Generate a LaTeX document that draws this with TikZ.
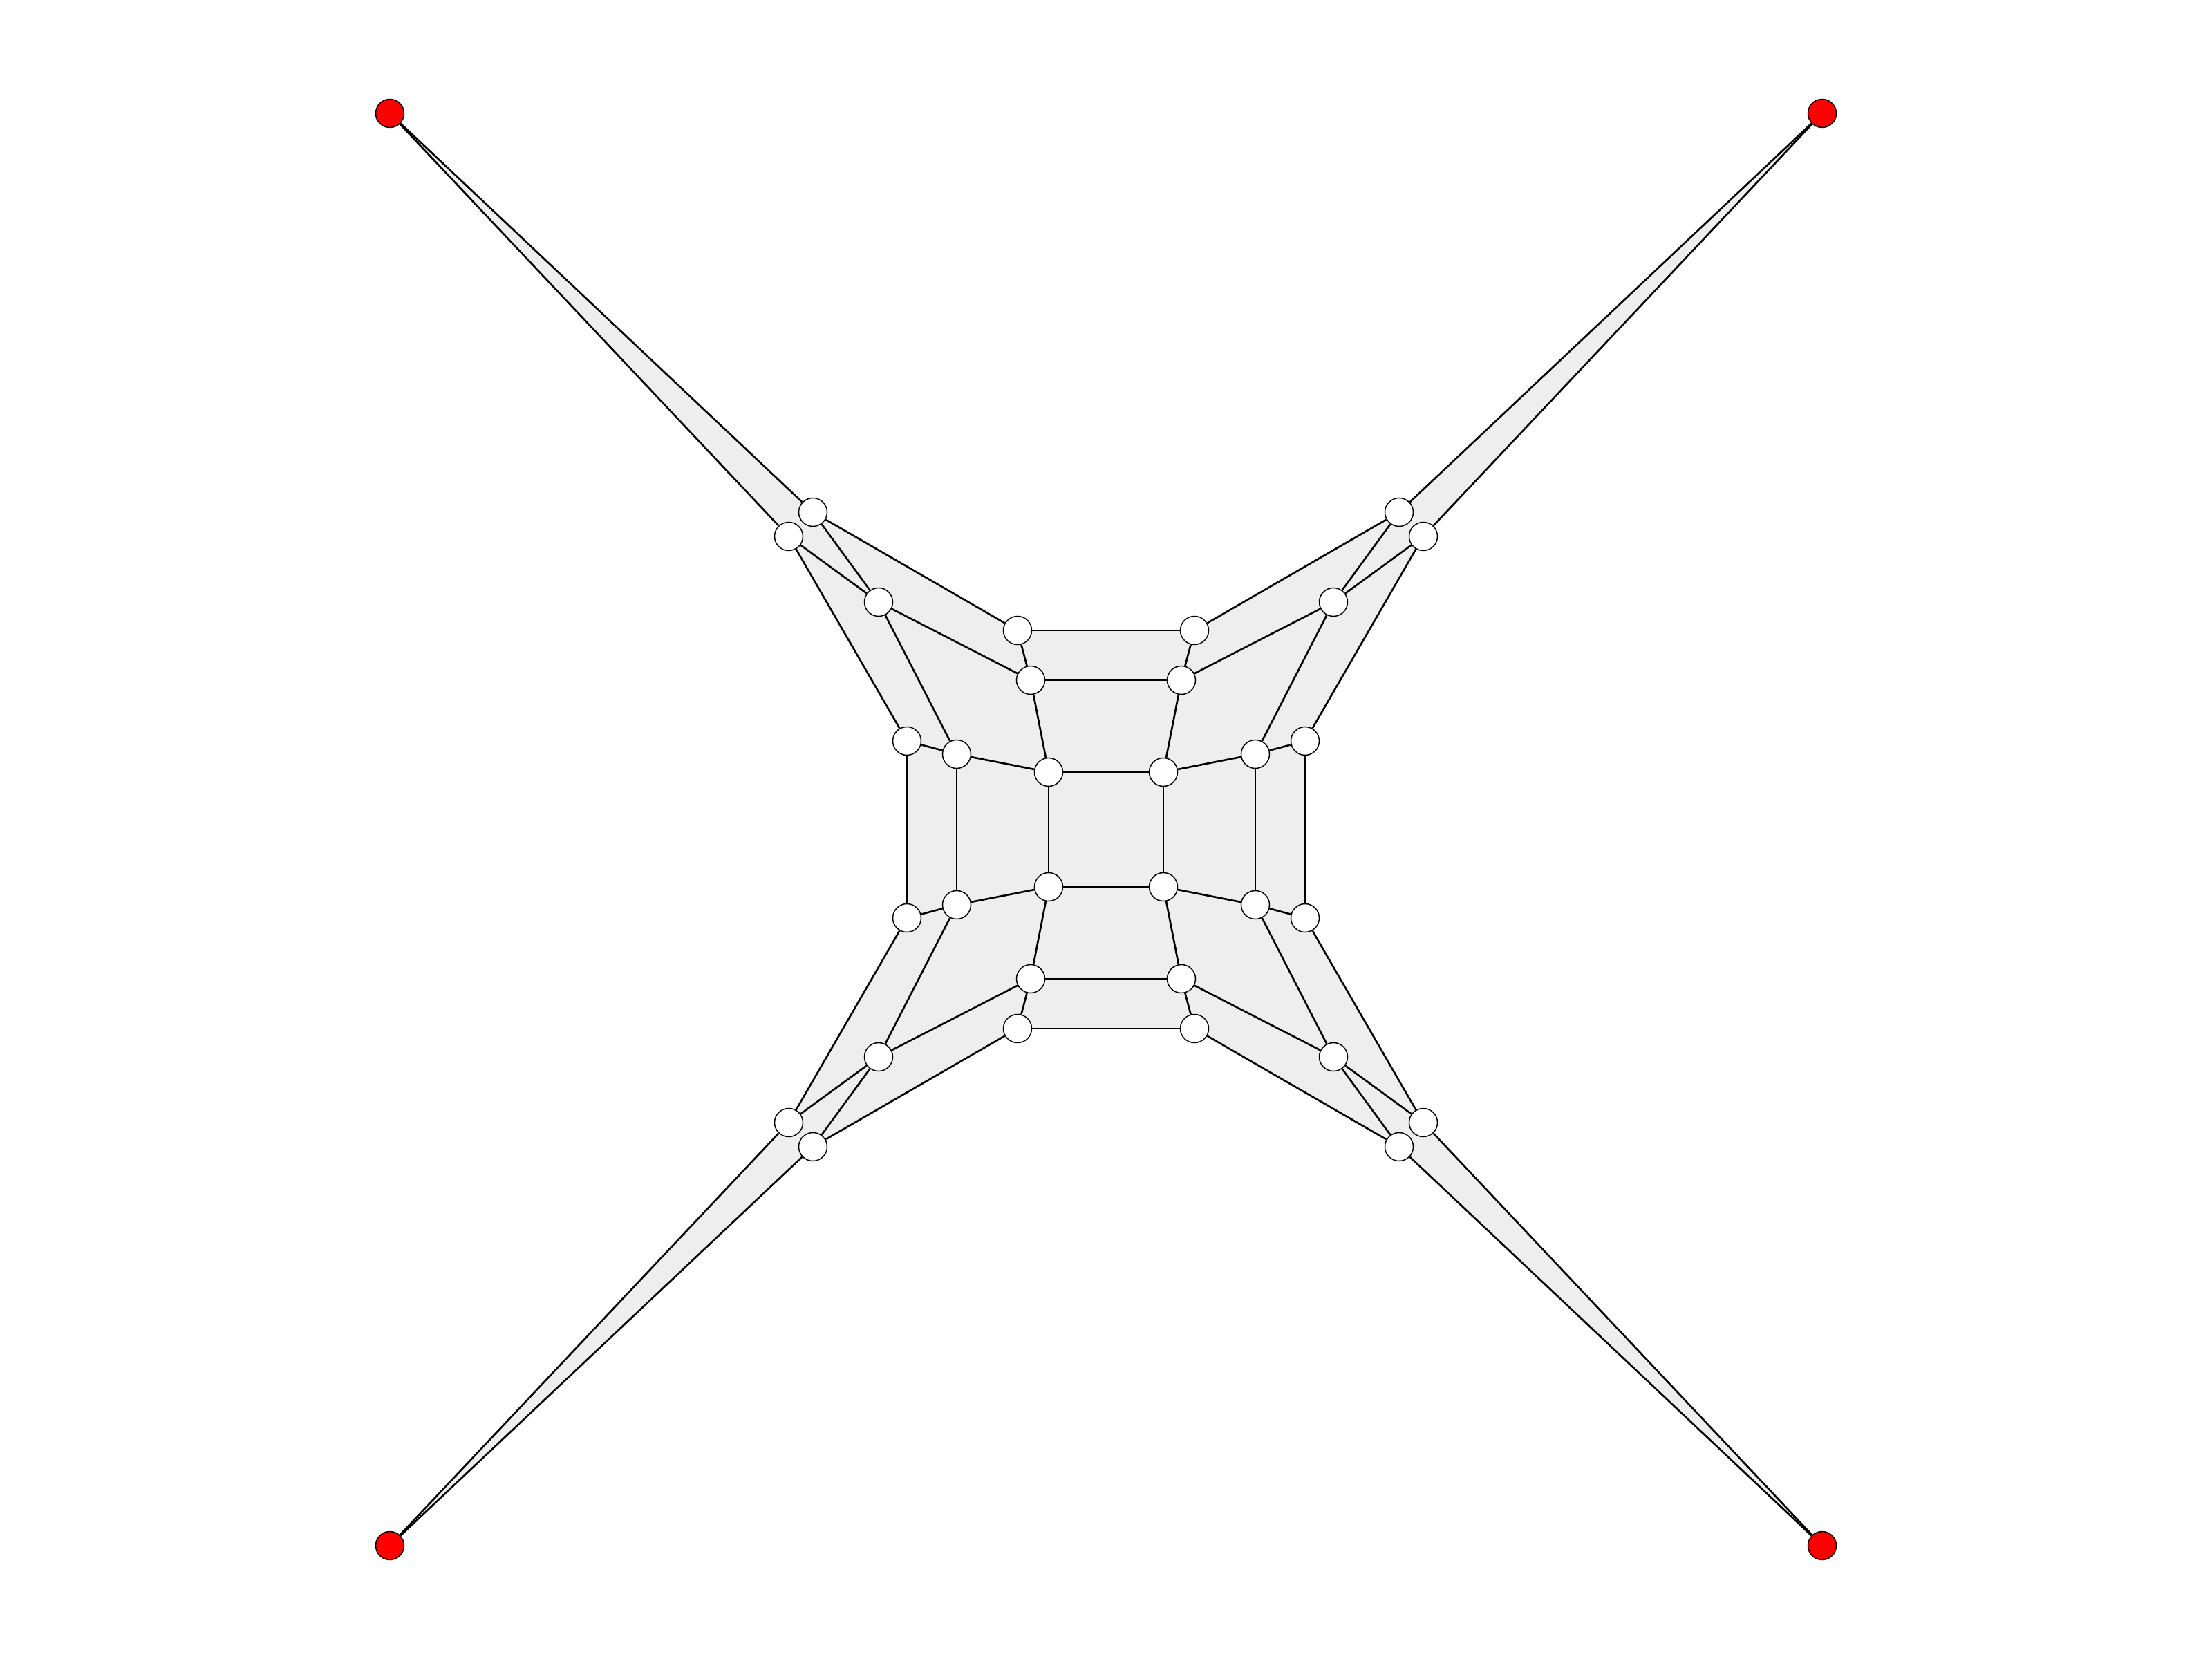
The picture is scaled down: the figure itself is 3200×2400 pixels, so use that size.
\documentclass[tikz,border=0pt]{standalone}
\pgfdeclarelayer{bg}
\pgfdeclarelayer{edges}
\pgfsetlayers{bg,edges,main}
\definecolor{facegray}{RGB}{238,238,238}
\begin{document}
\begin{tikzpicture}[x=0.01cm,y=0.01cm,
  vert/.style={circle,draw=black,fill=white,line width=0.42pt,minimum size=0.41cm,inner sep=0pt},
  term/.style={vert,fill=red},
  edge/.style={draw=black,line width=0.75pt}]
\useasboundingbox (-1600,-1200) rectangle (1600,1200);
\foreach \q/\sx/\sy in {a/-1/1,b/1/1,c/1/-1,d/-1/-1}{
  \node[term] (r\q) at (\sx*1036,\sy*1036) {};
  \node[vert] (p\q) at (\sx*424,\sy*459) {};
  \node[vert] (s\q) at (\sx*459,\sy*424) {};
  \node[vert] (c\q) at (\sx*329,\sy*329) {};
  \node[vert] (ha\q) at (\sx*128,\sy*288) {};
  \node[vert] (hb\q) at (\sx*109,\sy*216) {};
  \node[vert] (va\q) at (\sx*288,\sy*128) {};
  \node[vert] (vb\q) at (\sx*216,\sy*109) {};
  \node[vert] (i\q) at (\sx*83,\sy*83) {};
}
\begin{pgfonlayer}{bg}
\fill[facegray] (ra.center) -- (pa.center) -- (haa.center) -- (hab.center) -- (pb.center) -- (rb.center)
  -- (sb.center) -- (vab.center) -- (vac.center) -- (sc.center) -- (rc.center) -- (pc.center)
  -- (hac.center) -- (had.center) -- (pd.center) -- (rd.center) -- (sd.center) -- (vad.center)
  -- (vaa.center) -- (sa.center) -- cycle;
\end{pgfonlayer}
\begin{pgfonlayer}{edges}
\foreach \q in {a,b,c,d}{
  \draw[edge] (r\q) -- (p\q);
  \draw[edge] (r\q) -- (s\q);
  \draw[edge] (p\q) -- (ha\q);
  \draw[edge] (p\q) -- (c\q);
  \draw[edge] (s\q) -- (c\q);
  \draw[edge] (s\q) -- (va\q);
  \draw[edge] (c\q) -- (hb\q);
  \draw[edge] (c\q) -- (vb\q);
  \draw[edge] (ha\q) -- (hb\q);
  \draw[edge] (va\q) -- (vb\q);
  \draw[edge] (hb\q) -- (i\q);
  \draw[edge] (vb\q) -- (i\q);
}
\foreach \u/\w in {a/b,d/c}{
  \draw[edge] (ha\u) -- (ha\w);
  \draw[edge] (hb\u) -- (hb\w);
  \draw[edge] (i\u) -- (i\w);
}
\foreach \u/\w in {a/d,b/c}{
  \draw[edge] (va\u) -- (va\w);
  \draw[edge] (vb\u) -- (vb\w);
  \draw[edge] (i\u) -- (i\w);
}
\end{pgfonlayer}
\end{tikzpicture}
\end{document}
